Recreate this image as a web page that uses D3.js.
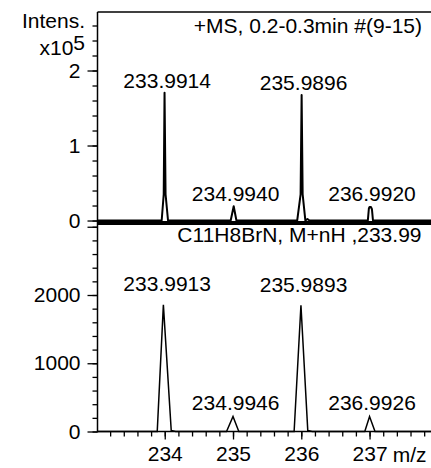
<!DOCTYPE html>
<html>
<head>
<meta charset="utf-8">
<script src="https://cdn.jsdelivr.net/npm/d3@7"></script>
<style>
  body { margin: 0; background: #fff; }
  svg text { font-family: "Liberation Sans", Arial, sans-serif; font-size: 21px; fill: #000; }
</style>
</head>
<body>
<svg id="chart"></svg>
<script>
// measured spectrum (+MS, 0.2-0.3min), intensity in units of 1e5
const msMz  = [233.015, 233.955, 233.985, 233.997, 234.012, 234.048, 234.966, 235.01, 235.05,
               235.94, 235.99, 236.005, 236.02, 236.06, 236.09, 236.12,
               236.975, 236.99, 237.0, 237.02, 237.035, 237.05, 237.9];
const msInt = [0, 0, 0.35, 1.705, 0.35, 0, 0, 0.19, 0,
               0, 0.35, 1.674, 0.35, 0, 0.02, 0,
               0, 0.16, 0.18, 0.18, 0.15, 0, 0];
const msPeakMz = [233.9914, 234.9940, 235.9896, 236.9920];
const msPeakInt = [1.69, 0.18, 1.66, 0.18];
const msPeakLabels = ["233.9914", "234.9940", "235.9896", "236.9920"];

// simulated isotope pattern C11H8BrN
const simMz  = [233.015, 233.89, 233.98, 234.095, 234.16, 234.905, 235.0, 235.085,
                235.895, 235.995, 236.095, 236.16, 236.93, 237.0, 237.08, 237.9];
const simInt = [0, 0, 1855, 15, 0, 0, 220, 0,
                0, 1850, 15, 0, 0, 220, 0, 0];
const simPeakMz = [233.9913, 234.9946, 235.9893, 236.9926];
const simPeakInt = [1965, 230, 1960, 230];
const simPeakLabels = ["233.9913", "234.9946", "235.9893", "236.9926"];

const xTicks = [234, 235, 236, 237];
const msTicks = [0, 1, 2];
const simTicks = [0, 1000, 2000, 3000];
const simTickLabels = ["0", "1000", "2000", ""];

const width = 431, height = 468;
const left = 97.5, right = 431;
const topPanel = {top: 12, bottom: 223};
const simPanel = {top: 223, bottom: 431.5};

const svg = d3.select("#chart").attr("width", width).attr("height", height);

const x = d3.scaleLinear().domain([233.015, 237.9]).range([left, right]);
const yMs = d3.scaleLinear().domain([-0.033, 2.78]).range([topPanel.bottom, topPanel.top]);
const ySim = d3.scaleLinear().domain([0, 3055]).range([simPanel.bottom, simPanel.top]);

// y axes (minor + major ticks)
function yAxis(scale, major, minor, fmt) {
  const g = svg.append("g").attr("transform", `translate(${left},0)`);
  g.append("g")
    .call(d3.axisLeft(scale).tickValues(minor).tickSize(5).tickFormat(""))
    .call(a => a.select(".domain").remove());
  g.append("g")
    .call(d3.axisLeft(scale).tickValues(major).tickSize(10).tickPadding(7).tickFormat(fmt))
    .call(a => a.select(".domain").remove());
  g.selectAll(".tick line").attr("stroke", "#000").attr("stroke-width", 1.3);
}
yAxis(yMs, msTicks, d3.range(0, 2.7, 0.2), d3.format("d"));
yAxis(ySim, simTicks, d3.range(0, 3001, 200), (d, i) => simTickLabels[i]);

// x axis
const xg = svg.append("g").attr("transform", `translate(0,${simPanel.bottom})`);
xg.append("g")
  .call(d3.axisBottom(x).tickValues(d3.range(233.2, 237.9, 0.2)).tickSize(5).tickFormat(""))
  .call(a => a.select(".domain").remove());
xg.append("g")
  .call(d3.axisBottom(x).tickValues(xTicks).tickSize(8).tickPadding(7).tickFormat(d3.format("d")))
  .call(a => a.select(".domain").remove());
xg.selectAll(".tick line").attr("stroke", "#000").attr("stroke-width", 1.3);

// frame lines
svg.append("line").attr("x1", left).attr("x2", left)
  .attr("y1", topPanel.top).attr("y2", simPanel.bottom + 0.7)
  .attr("stroke", "#000").attr("stroke-width", 1.5);
svg.append("line").attr("x1", left).attr("x2", right)
  .attr("y1", topPanel.top).attr("y2", topPanel.top)
  .attr("stroke", "#000").attr("stroke-width", 1.5);
svg.append("line").attr("x1", left).attr("x2", right)
  .attr("y1", simPanel.bottom).attr("y2", simPanel.bottom)
  .attr("stroke", "#000").attr("stroke-width", 1.5);
svg.append("line").attr("x1", left).attr("x2", right)
  .attr("y1", topPanel.bottom).attr("y2", topPanel.bottom)
  .attr("stroke", "#000").attr("stroke-width", 4);

// spectra
const msLine = d3.line().x((d, i) => x(msMz[i])).y(d => yMs(d));
svg.append("path").datum(msInt)
  .attr("d", msLine).attr("fill", "none")
  .attr("stroke", "#000").attr("stroke-width", 2).attr("stroke-linejoin", "round");

const simLine = d3.line().x((d, i) => x(simMz[i])).y(d => ySim(d));
svg.append("path").datum(simInt)
  .attr("d", simLine).attr("fill", "none")
  .attr("stroke", "#000").attr("stroke-width", 1.5);

// peak labels
svg.selectAll(".ms-label").data(msPeakLabels).join("text")
  .attr("class", "ms-label")
  .attr("text-anchor", "middle")
  .attr("x", (d, i) => x(msPeakMz[i]) + 3)
  .attr("y", (d, i) => yMs(msPeakInt[i]) - 6)
  .text(d => d);

svg.selectAll(".sim-label").data(simPeakLabels).join("text")
  .attr("class", "sim-label")
  .attr("text-anchor", "middle")
  .attr("x", (d, i) => x(simPeakMz[i]) + 3)
  .attr("y", (d, i) => ySim(simPeakInt[i]) - 6)
  .text(d => d);

// titles
svg.append("text").attr("x", 85).attr("y", 28).attr("text-anchor", "end").text("Intens.");
const mult = svg.append("text").attr("x", 85).attr("y", 55).attr("text-anchor", "end");
mult.append("tspan").text("x10");
mult.append("tspan").attr("dy", -5).text("5");
svg.append("text").attr("x", 422).attr("y", 33).attr("text-anchor", "end")
  .text("+MS, 0.2-0.3min #(9-15)");
svg.append("text").attr("x", 421.5).attr("y", 242).attr("text-anchor", "end")
  .text("C11H8BrN, M+nH ,233.99");
svg.append("text").attr("x", 426.5).attr("y", 461.5).attr("text-anchor", "end").text("m/z");
</script>
</body>
</html>
